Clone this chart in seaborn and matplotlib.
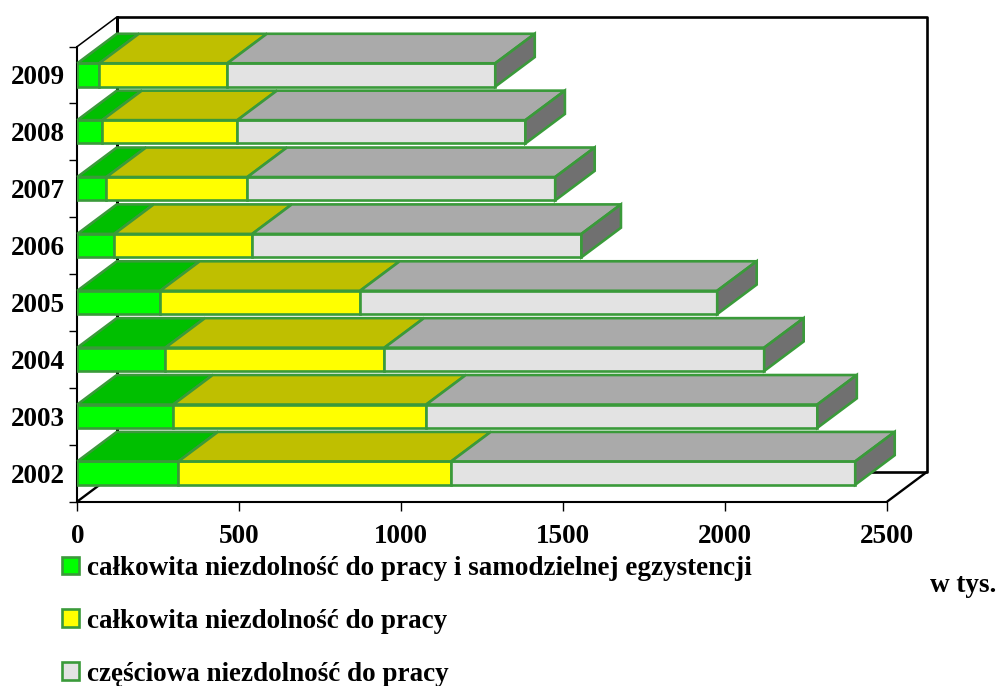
import matplotlib
matplotlib.use("Agg")
import numpy as np
import matplotlib.pyplot as plt
from matplotlib.patches import Polygon, Patch
import seaborn as sb

years = ["2009", "2008", "2007", "2006", "2005", "2004", "2003", "2002"]
full_inability_care = [68, 77, 90, 114, 256, 272, 296, 312]
full_inability = [395, 417, 435, 426, 617, 676, 781, 842]
partial_inability = [827, 889, 950, 1016, 1102, 1172, 1207, 1247]
labels = ["całkowita niezdolność do pracy i samodzielnej egzystencji",
          "całkowita niezdolność do pracy",
          "częściowa niezdolność do pracy"]
xticks = [0, 500, 1000, 1500, 2000, 2500]

front_colors = ["#00ff00", "#ffff00", "#e3e3e3"]
top_colors = ["#00bf00", "#bfbf00", "#aaaaaa"]
side_color = "#707070"
edge = "#3a9a3a"
font = "Liberation Serif"

sb.set_style("white")
plt.rcParams["font.family"] = [font, "DejaVu Sans"]
plt.rcParams["font.weight"] = "bold"
plt.rcParams["text.color"] = "black"

W, H = 997, 686
fig = plt.figure(figsize=(W/100, H/100), dpi=100)
ax = fig.add_axes([77.3/W, 1-501.5/H, 810/W, 455/H])
ax.patch.set_alpha(0)

# depth of the fake 3d box, px converted to data units
dx = 39.5*2500/810
dy = 29.5*8/455
bar_h = 0.41
lw = 1.9

series = [np.array(full_inability_care), np.array(full_inability), np.array(partial_inability)]
left = np.zeros(len(years))
for s, values in enumerate(series):
    sb.barplot(x=values, y=years, left=left, orient="y", color=front_colors[s], saturation=1,
               width=bar_h, errorbar=None, edgecolor=edge, linewidth=lw, zorder=3, ax=ax)
    for i in range(len(years)):
        x0, x1 = left[i], left[i]+values[i]
        yt = i-bar_h/2
        ax.add_patch(Polygon([(x0, yt), (x1, yt), (x1+dx, yt-dy), (x0+dx, yt-dy)], closed=True,
                             facecolor=top_colors[s], edgecolor=edge, lw=lw, zorder=3, clip_on=False))
        if s == 2:
            yb = i+bar_h/2
            ax.add_patch(Polygon([(x1, yt), (x1+dx, yt-dy), (x1+dx, yb-dy), (x1, yb)], closed=True,
                                 facecolor=side_color, edgecolor=edge, lw=lw, zorder=3, clip_on=False))
    left = left+values

ax.set_xlim(0, 2500)
ax.set_ylim(7.5, -0.5)

# back wall and floor
ax.plot([dx, dx, 2500+dx, 2500+dx, dx, dx], [7.5-dy, -0.5-dy, -0.5-dy, 7.5-dy, 7.5-dy, -0.5-dy],
        color="black", lw=1.9, zorder=1, clip_on=False)
ax.plot([0, dx], [-0.5, -0.5-dy], color="black", lw=1.1, zorder=1, clip_on=False)
ax.plot([0, dx], [7.5, 7.5-dy], color="black", lw=1.7, zorder=1, clip_on=False)
ax.plot([2500, 2500+dx], [7.5, 7.5-dy], color="black", lw=1.7, zorder=1, clip_on=False)

for name in ["top", "right"]:
    ax.spines[name].set_visible(False)
for name in ["left", "bottom"]:
    ax.spines[name].set_color("black")
    ax.spines[name].set_linewidth(1.5)
    ax.spines[name].set_zorder(1.5)

ax.set_xlabel("")
ax.set_ylabel("")
ax.set_xticks(xticks)
ax.set_xticklabels([str(t) for t in xticks], fontsize=19.5, fontweight="bold", family=font)
ax.tick_params(axis="x", length=6.5, width=1, color="black", pad=9.5, bottom=True, labelcolor="black")
# ticks sit between the years, the labels on the years
ax.set_yticks(np.arange(len(years)+1)-0.5)
ax.set_yticklabels([])
ax.set_yticks(np.arange(len(years)), labels=years, minor=True, fontsize=19.5, fontweight="bold", family=font)
ax.tick_params(axis="y", which="major", length=6, width=1, color="black", left=True)
ax.tick_params(axis="y", which="minor", length=0, pad=9, labelcolor="black")

handles = [Patch(facecolor=front_colors[i], edgecolor=edge, lw=lw, label=labels[i]) for i in range(3)]
fig.legend(handles=handles, loc="upper left", bbox_to_anchor=(62/W, 1-556/H), frameon=False,
           prop={"family": font, "weight": "bold", "size": 19.5}, borderpad=0, borderaxespad=0,
           handlelength=0.64, handleheight=0.64, handletextpad=0.27, labelspacing=1.03, labelcolor="black")
fig.text(930/W, 1-585/H, "w tys.", fontsize=19.5, fontweight="bold", family=font, va="center", ha="left")

fig.savefig("out.png", dpi=100)
